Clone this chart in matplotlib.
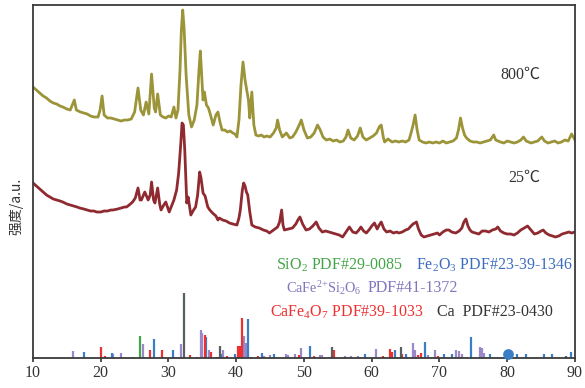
import matplotlib
matplotlib.use("Agg")
import matplotlib.pyplot as plt

plt.rcParams["font.family"] = ["Liberation Serif", "Noto Sans CJK SC", "DejaVu Sans"]
plt.rcParams["mathtext.fontset"] = "custom"
plt.rcParams["mathtext.rm"] = "Liberation Serif"
plt.rcParams["mathtext.it"] = "Liberation Serif:italic"

# ---- XRD pattern, sample heated at 800 C (stacked intensity, a.u.) ----
two_theta_800 = [
    10.0, 10.5, 11.0, 11.5, 12.0, 12.5, 13.0, 13.5, 14.0, 14.4, 15.0, 15.5, 16.1, 16.4,
    17.0, 17.5, 18.0, 18.5, 19.0, 19.6, 19.9, 20.2, 20.5, 21.0, 21.5, 22.0, 22.5, 23.0,
    23.5, 24.0, 24.5, 25.0, 25.5, 25.9, 26.3, 26.7, 27.1, 27.5, 27.9, 28.1, 28.4, 28.8,
    29.2, 29.6, 30.0, 30.4, 30.8, 31.1, 31.4, 31.7, 31.9, 32.1, 32.3, 32.6, 33.0, 33.4,
    33.8, 34.2, 34.5, 34.7, 34.9, 35.1, 35.3, 35.6, 35.9, 36.2, 36.6, 37.0, 37.3, 37.6,
    37.9, 38.3, 38.7, 39.1, 39.5, 39.8, 40.1, 40.4, 40.7, 41.0, 41.3, 41.5, 41.8, 42.0,
    42.3, 42.6, 42.9, 43.3, 43.7, 44.1, 44.5, 45.0, 45.5, 45.9, 46.1, 46.4, 46.8, 47.4,
    47.9, 48.3, 48.8, 49.3, 49.6, 50.0, 50.5, 51.0, 51.5, 52.0, 52.4, 52.8, 53.3, 53.8,
    54.3, 54.8, 55.3, 55.8, 56.2, 56.5, 56.9, 57.4, 57.9, 58.3, 58.7, 59.2, 59.7, 60.2,
    60.7, 61.1, 61.4, 61.7, 61.9, 62.4, 63.0, 63.5, 64.0, 64.5, 65.0, 65.5, 65.8, 66.1,
    66.4, 66.7, 67.0, 67.5, 68.0, 68.5, 69.0, 69.5, 70.0, 70.5, 71.0, 71.5, 72.0, 72.5,
    72.8, 73.1, 73.4, 73.7, 74.0, 74.5, 75.0, 75.5, 76.0, 76.5, 77.0, 77.5, 78.0, 78.3,
    79.0, 79.5, 80.0, 80.5, 81.0, 81.5, 82.0, 82.4, 82.8, 83.5, 84.0, 84.5, 85.1, 85.5,
    86.0, 86.5, 87.0, 87.5, 88.0, 88.5, 89.0, 89.5, 90.0,
]
intensity_800 = [
    271, 268, 265, 262, 260, 257, 255, 254, 252, 251, 249, 248, 258, 248,
    246, 245, 244, 242, 241, 241, 248, 262, 243, 240, 240, 239, 238, 237,
    238, 238, 239, 246, 270, 248, 243, 256, 244, 284, 250, 246, 264, 243,
    241, 240, 242, 241, 251, 240, 248, 288, 328, 348, 330, 283, 243, 231,
    238, 253, 288, 307, 283, 258, 266, 253, 250, 243, 233, 243, 246, 236,
    228, 228, 226, 227, 225, 224, 221, 238, 273, 296, 278, 270, 258, 240,
    266, 233, 223, 222, 223, 221, 222, 221, 225, 230, 238, 228, 221, 225,
    220, 221, 226, 233, 238, 228, 220, 221, 225, 233, 228, 221, 218, 219,
    217, 218, 216, 217, 221, 228, 220, 218, 222, 230, 221, 218, 220, 222,
    225, 231, 233, 221, 216, 219, 216, 217, 216, 217, 216, 218, 225, 233,
    243, 228, 218, 216, 215, 216, 215, 216, 215, 217, 215, 216, 217, 220,
    228, 240, 230, 223, 220, 217, 216, 216, 215, 216, 217, 218, 223, 218,
    216, 215, 217, 216, 215, 216, 218, 221, 217, 215, 216, 217, 221, 217,
    215, 216, 217, 215, 216, 218, 217, 224, 218,
]

# ---- XRD pattern, raw sample at 25 C (stacked intensity, a.u.) ----
two_theta_25 = [
    10.0, 10.5, 11.0, 11.5, 12.0, 12.5, 13.0, 13.5, 14.0, 14.4, 15.0, 15.5, 16.0, 16.5,
    16.9, 17.5, 18.0, 18.5, 19.0, 19.4, 20.0, 20.5, 21.0, 21.5, 21.8, 22.5, 23.0, 23.5,
    23.8, 24.2, 24.7, 25.1, 25.5, 25.8, 26.0, 26.5, 27.0, 27.3, 27.5, 27.8, 28.0, 28.4,
    28.7, 28.9, 29.3, 29.6, 30.1, 30.5, 30.8, 31.2, 31.5, 31.8, 32.0, 32.2, 32.4, 32.7,
    32.9, 33.3, 33.7, 34.0, 34.3, 34.6, 34.8, 35.1, 35.4, 35.8, 36.1, 36.5, 37.0, 37.3,
    37.5, 38.0, 38.5, 39.0, 39.5, 40.1, 40.4, 40.6, 40.9, 41.1, 41.3, 41.5, 41.7, 42.0,
    42.3, 42.8, 43.4, 44.0, 44.5, 44.9, 45.5, 46.1, 46.4, 46.7, 46.9, 47.1, 47.7, 48.3,
    48.8, 49.1, 49.4, 49.8, 50.3, 50.8, 51.3, 51.8, 52.2, 52.7, 53.2, 53.7, 54.2, 54.7,
    55.2, 55.7, 56.2, 56.7, 57.2, 57.7, 58.1, 58.4, 58.8, 59.2, 59.7, 60.0, 60.4, 60.8,
    61.1, 61.4, 61.8, 62.2, 62.7, 63.2, 63.7, 64.0, 64.5, 65.0, 65.4, 65.8, 66.1, 66.6,
    66.9, 67.3, 67.7, 68.2, 68.7, 69.2, 69.7, 70.0, 70.5, 71.0, 71.4, 71.8, 72.4, 72.9,
    73.3, 73.6, 73.9, 74.2, 74.5, 74.8, 75.3, 75.8, 76.3, 76.8, 77.3, 77.8, 78.3, 78.6,
    79.0, 79.5, 80.0, 80.5, 81.0, 81.5, 82.0, 82.5, 83.0, 83.5, 84.0, 84.5, 85.0, 85.3,
    85.7, 86.2, 86.7, 87.1, 87.6, 88.1, 88.6, 89.1, 89.5, 90.0,
]
intensity_25 = [
    175, 172, 169, 166, 163, 161, 159, 158, 157, 156, 154, 153, 152, 151,
    150, 149, 148, 147, 147, 146, 146, 147, 147, 148, 148, 149, 150, 151,
    151, 153, 156, 160, 170, 158, 158, 166, 158, 163, 176, 158, 155, 170,
    154, 148, 153, 156, 146, 153, 158, 168, 185, 213, 235, 233, 208, 155,
    161, 143, 148, 151, 163, 186, 180, 165, 162, 151, 148, 145, 142, 138,
    140, 138, 137, 135, 134, 133, 140, 148, 168, 175, 172, 166, 163, 146,
    133, 131, 130, 128, 127, 125, 128, 131, 136, 148, 133, 128, 129, 130,
    134, 138, 141, 134, 128, 129, 132, 136, 130, 126, 127, 126, 125, 124,
    123, 121, 126, 131, 126, 125, 128, 131, 127, 125, 129, 132, 135, 129,
    133, 136, 129, 126, 127, 125, 126, 125, 126, 128, 129, 132, 134, 136,
    129, 123, 121, 122, 123, 124, 125, 123, 126, 128, 128, 126, 125, 127,
    130, 136, 139, 132, 128, 126, 125, 124, 127, 127, 126, 128, 129, 131,
    127, 125, 124, 124, 123, 125, 128, 130, 132, 128, 124, 125, 127, 128,
    125, 123, 122, 121, 122, 124, 125, 126, 125, 126,
]

# ---- Reference (PDF card) stick patterns: positions (2-theta) and heights ----
sio2_pos = [25.8]
sio2_h = [22]

fe2o3_pos = [17.6, 21.6, 27.9, 30.6, 35.5, 37.8, 39.8, 41.8, 43.8, 45.6, 50.9, 59.0,
             63.5, 65.0, 67.8, 70.6, 71.9, 74.7, 77.5, 81.5, 82.7, 85.4, 86.6, 89.4]
fe2o3_h = [6, 5, 19, 8, 21, 4, 4, 39, 5, 4, 12, 4,
           8, 4, 16, 4, 4, 21, 4, 4, 4, 4, 4, 6]

cafesi_pos = [15.9, 21.8, 23.0, 26.3, 31.9, 34.8, 35.0, 36.0, 38.0, 41.2, 41.4, 41.6,
              44.1, 45.0, 47.3, 47.6, 48.6, 49.6, 52.4, 52.7, 56.0, 57.0, 58.0, 60.7,
              66.1, 66.4, 68.3, 69.4, 72.5, 72.9, 73.3, 76.0, 76.3, 76.5]
cafesi_h = [7, 4, 5, 14, 14, 28, 25, 8, 8, 22, 15, 8,
            2, 3, 4, 3, 4, 10, 3, 3, 2, 2, 2, 9,
            15, 8, 3, 8, 8, 7, 4, 11, 10, 5]

cafe4o7_pos = [20.1, 20.6, 24.8, 27.3, 29.0, 33.2, 34.2, 35.4, 36.3, 37.1, 38.7, 40.3,
               40.5, 40.8, 42.2, 43.2, 49.3, 51.5, 54.1, 54.5, 61.6, 62.7, 63.0, 64.5,
               66.8, 67.2, 69.8]
cafe4o7_h = [11, 2, 1, 8, 8, 3, 1, 23, 6, 1, 2, 12,
             12, 40, 1, 2, 3, 2, 3, 8, 2, 9, 6, 4,
             3, 5, 2]

ca_pos = [32.3, 37.6, 54.2, 64.3, 88.6]
ca_h = [65, 12, 11, 11, 2]

# Fe2O3 reflection flagged with a dot marker
fe2o3_dot_pos = [80.1]
fe2o3_dot_h = [4]

x_ticks = [10, 20, 30, 40, 50, 60, 70, 80, 90]

OLIVE = "#9c9438"
WINE = "#8e2a30"
GREEN = "#44a548"
BLUE = "#3a7ec6"
BLUE_TXT = "#3d6cbf"
PURPLE = "#9a88c8"
PURPLE_TXT = "#7f76bd"
RED = "#ee3030"
DARK = "#56605e"

fig = plt.figure(figsize=(5.85, 3.88), dpi=100)
ax = fig.add_axes([0.0564, 0.0773, 0.9265, 0.9098])

# the two diffraction traces
ax.plot(two_theta_800, intensity_800, color=OLIVE, lw=2.0, solid_joinstyle="round")
ax.plot(two_theta_25, intensity_25, color=WINE, lw=2.0, solid_joinstyle="round")

# stick patterns
stick_sets = [
    (cafesi_pos, cafesi_h, PURPLE),
    (fe2o3_pos, fe2o3_h, BLUE),
    (cafe4o7_pos, cafe4o7_h, RED),
    (sio2_pos, sio2_h, GREEN),
    (ca_pos, ca_h, DARK),
]
for pos, h, col in stick_sets:
    ax.vlines(pos, 0, h, colors=col, lw=1.6)
ax.scatter(fe2o3_dot_pos, fe2o3_dot_h, s=45, color=BLUE, zorder=5, clip_on=False)

# labels for the traces
ax.text(79.0, 283, "800\u2103", fontsize=11.5, color="#333333", va="center")
ax.text(80.2, 180, "25\u2103", fontsize=11.5, color="#333333", va="center")

# phase key
fs = 11.5
ax.text(45.9, 93, r"SiO$\mathregular{_2}$ PDF#29-0085", color=GREEN, fontsize=fs, va="center")
ax.text(66.5, 93, r"Fe$\mathregular{_2}$O$\mathregular{_3}$ PDF#23-39-1346", color=BLUE_TXT,
        fontsize=fs, va="center")
ax.text(47.3, 70, r"CaFe$\mathregular{^{2{+}}}$Si$\mathregular{_2}$O$\mathregular{_6}$",
        color=PURPLE_TXT, fontsize=10.3, va="center")
ax.text(59.4, 70, "PDF#41-1372", color=PURPLE_TXT, fontsize=fs, va="center")
ax.text(45.0, 46, r"CaFe$\mathregular{_4}$O$\mathregular{_7}$ PDF#39-1033", color=RED,
        fontsize=fs, va="center")
ax.text(69.7, 46, "Ca  PDF#23-0430", color="#333333", fontsize=fs, va="center")

ax.set_xlim(10, 90)
ax.set_ylim(0, 353)
ax.set_xticks(x_ticks)
ax.set_yticks([])
ax.tick_params(axis="x", direction="out", length=3, width=1.2, labelsize=11.5,
               colors="#333333", pad=2)
for sp in ax.spines.values():
    sp.set_color("#3a3a3a")
    sp.set_linewidth(1.3)

ax.set_ylabel("强度/a.u.", fontsize=10, family=["Noto Sans CJK SC", "DejaVu Sans"],
              color="#333333")
ax.yaxis.set_label_coords(-0.018, 0.43)

fig.savefig("out.png", dpi=100)
